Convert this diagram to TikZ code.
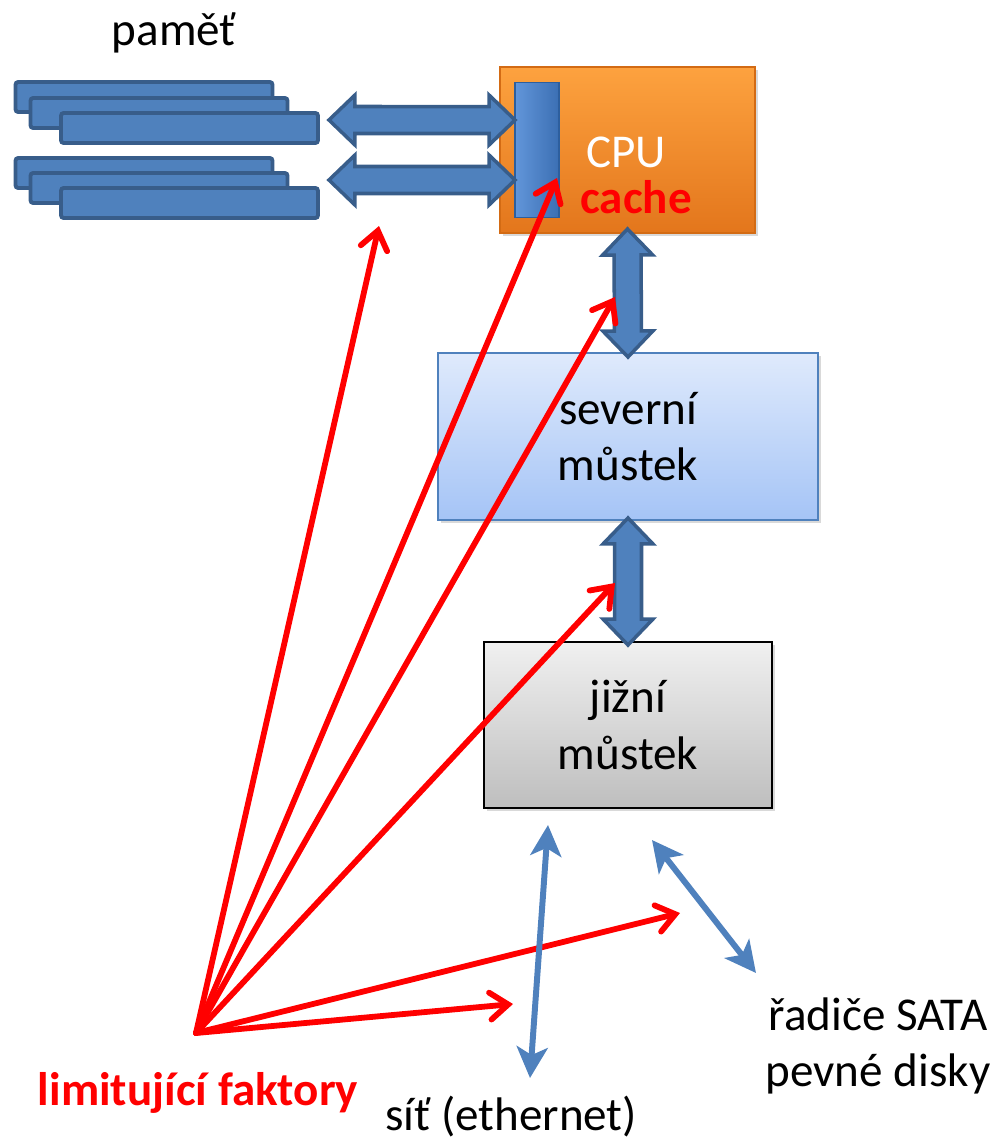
\documentclass[tikz,border=0pt]{standalone}
\usepackage{fontspec}
\setmainfont{Carlito}
\usetikzlibrary{arrows.meta,calc,shadows}
\definecolor{busfill}{HTML}{4F81BD}
\definecolor{busline}{HTML}{385D8A}
\definecolor{cputop}{HTML}{FDA23F}
\definecolor{cpubot}{HTML}{E3761C}
\definecolor{cpuline}{HTML}{D36B14}
\definecolor{barfill}{HTML}{4683D3}
\definecolor{barline}{HTML}{2D5F9E}
\definecolor{nbtop}{HTML}{DFEAFC}
\definecolor{nbbot}{HTML}{A5C4F6}
\definecolor{sbtop}{HTML}{F0F0F0}
\definecolor{sbbot}{HTML}{BEBEBE}
\begin{document}
\begin{tikzpicture}[x=0.02cm,y=-0.02cm,
    every node/.style={font=\fontsize{26.8}{32}\selectfont},
    module/.style={draw=busline,fill=busfill,line width=2.2pt,rounded corners=1.5pt,
      minimum width=5.14cm,minimum height=0.6cm,inner sep=0pt,outer sep=0pt},
    box/.style={minimum width=#1,inner sep=0pt,outer sep=0pt,align=center,
      drop shadow={opacity=.3,shadow xshift=1.5pt,shadow yshift=-1.5pt}},
    fat/.style={draw=busline,fill=busfill,line width=2pt,line join=miter,
      to path={-- ($(\tikztostart)!0.52cm!(\tikztotarget)!0.5cm!90:(\tikztotarget)$)
        -- ($(\tikztostart)!0.52cm!(\tikztotarget)!0.27cm!90:(\tikztotarget)$)
        -- ($(\tikztotarget)!0.52cm!(\tikztostart)!0.27cm!-90:(\tikztostart)$)
        -- ($(\tikztotarget)!0.52cm!(\tikztostart)!0.5cm!-90:(\tikztostart)$)
        -- (\tikztotarget)
        -- ($(\tikztotarget)!0.52cm!(\tikztostart)!0.5cm!90:(\tikztostart)$)
        -- ($(\tikztotarget)!0.52cm!(\tikztostart)!0.27cm!90:(\tikztostart)$)
        -- ($(\tikztostart)!0.52cm!(\tikztotarget)!0.27cm!-90:(\tikztotarget)$)
        -- ($(\tikztostart)!0.52cm!(\tikztotarget)!0.5cm!-90:(\tikztotarget)$)
        -- cycle}},
    limit/.style={red,line width=3.3pt,line cap=round,
      -{Straight Barb[length=0.36cm,width=0.54cm,line cap=round]}},
    link/.style={busfill,line width=3.4pt,
      {Stealth[length=0.62cm,width=0.62cm,inset=0.16cm]}-{Stealth[length=0.62cm,width=0.62cm,inset=0.16cm]}}]
  \useasboundingbox (0,0) rectangle (1000,1143);

  % memory modules
  \node (pamet) at (174,45) [anchor=base] {paměť};
  \node (m11) at (144,97) [module] {}; \node (m12) at (159,113) [module] {};
  \node (m13) at (189.5,128) [module] {};
  \node (m21) at (144,173) [module] {}; \node (m22) at (159,188) [module] {};
  \node (m23) at (189.5,203) [module] {};

  % CPU, bridges
  \node (cpu) at (627.5,150) [box=5.1cm,minimum height=3.32cm,top color=cputop,
    bottom color=cpubot,draw=cpuline,line width=.8pt] {};
  \node (bar) at (537,150) [minimum width=0.88cm,minimum height=2.7cm,inner sep=0pt,
    outer sep=0pt,left color=barfill!85!white,right color=barfill!85!black,
    draw=barline,line width=.8pt] {};
  \node (cputxt) at (626,167) [anchor=base,text=white] {CPU};
  \node (cache) at (636,213) [anchor=base,text=red,font=\fontsize{26.8}{32}\selectfont\bfseries] {cache};
  \node (nb) at (628,436.5) [box=7.6cm,minimum height=3.34cm,top color=nbtop,
    bottom color=nbbot,draw=busfill,line width=.9pt] {severní\\můstek};
  \node (sb) at (628,725) [box=5.76cm,minimum height=3.32cm,top color=sbtop,
    bottom color=sbbot,draw=black,line width=.9pt] {jižní\\můstek};

  % buses
  \draw[fat] ([shift={(11,-8)}]m13.east) to ([yshift=0.6cm]bar.west);
  \draw[fat] ([shift={(11,-23)}]m23.east) to ([yshift=-0.6cm]bar.west);
  \draw[fat] ([yshift=0.08cm]cpu.south) to ([yshift=-0.08cm]nb.north);
  \draw[fat] ([yshift=0.04cm]nb.south) to ([yshift=-0.06cm]sb.north);

  % peripherals
  \node (net) at (511,1130) [anchor=base] {síť (ethernet)};
  \node (sata) at (878,1046) [align=center] {řadiče SATA\\pevné disky};
  \node (limtxt) at (198,1105) [anchor=base,text=red,font=\fontsize{26.8}{32}\selectfont\bfseries] {limitující faktory};
  \coordinate (lim) at (196,1033);
  \coordinate (netup) at (548,825); \coordinate (netdn) at (530,1078);
  \coordinate (sataup) at (652,840); \coordinate (satadn) at (756,973);
  \coordinate (tmem) at (379,226); \coordinate (tcache) at (557,178);
  \coordinate (tnb) at (615,297); \coordinate (tsb) at (615,583);
  \coordinate (tsata) at (680,913); \coordinate (tnet) at (513,1004);

  \draw[limit] (lim) -- (tmem); \draw[limit] (lim) -- (tcache);
  \draw[limit] (lim) -- (tnb); \draw[limit] (lim) -- (tsb);
  \draw[limit] (lim) -- (tsata); \draw[limit] (lim) -- (tnet);
  \draw[link] (netup) -- (netdn); \draw[link] (sataup) -- (satadn);
\end{tikzpicture}
\end{document}
